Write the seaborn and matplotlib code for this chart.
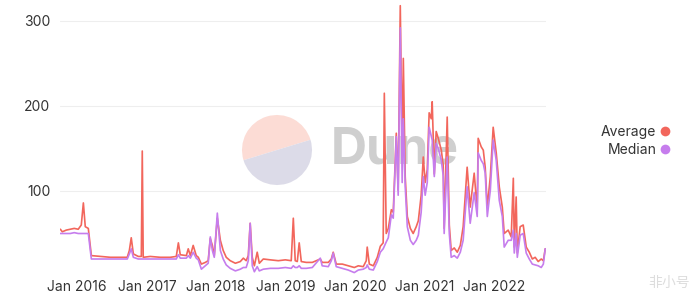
import matplotlib
matplotlib.use("Agg")
import matplotlib.pyplot as plt
from matplotlib.patches import Wedge
from matplotlib.lines import Line2D
import matplotlib.dates as mdates
import seaborn as sns
import pandas as pd

dates = [
    "2015-10-04", "2015-10-14", "2015-11-04", "2015-11-25", "2015-12-16", "2016-01-06",
    "2016-01-22", "2016-02-02", "2016-02-12", "2016-02-28", "2016-03-15", "2016-05-01",
    "2016-06-23", "2016-08-14", "2016-09-20", "2016-10-01", "2016-10-11", "2016-10-22",
    "2016-11-17", "2016-12-03", "2016-12-08", "2016-12-13", "2017-01-19", "2017-03-13",
    "2017-05-04", "2017-06-05", "2017-06-16", "2017-06-26", "2017-07-28", "2017-08-07",
    "2017-08-18", "2017-09-02", "2017-09-18", "2017-09-29", "2017-10-15", "2017-11-05",
    "2017-11-20", "2017-12-01", "2017-12-12", "2017-12-22", "2018-01-07", "2018-01-23",
    "2018-02-07", "2018-02-23", "2018-03-16", "2018-04-12", "2018-05-08", "2018-05-24",
    "2018-06-08", "2018-06-19", "2018-06-29", "2018-07-10", "2018-07-21", "2018-08-05",
    "2018-08-16", "2018-09-06", "2018-10-13", "2018-11-24", "2018-12-31", "2019-01-31",
    "2019-02-11", "2019-02-21", "2019-03-04", "2019-03-14", "2019-03-25", "2019-04-20",
    "2019-05-22", "2019-06-22", "2019-07-03", "2019-07-13", "2019-08-14", "2019-08-30",
    "2019-09-09", "2019-09-25", "2019-10-27", "2019-11-27", "2019-12-29", "2020-01-19",
    "2020-02-14", "2020-03-01", "2020-03-06", "2020-03-17", "2020-04-07", "2020-04-28",
    "2020-05-14", "2020-05-29", "2020-06-04", "2020-06-14", "2020-06-25", "2020-07-11",
    "2020-07-21", "2020-08-06", "2020-08-16", "2020-08-27", "2020-09-06", "2020-09-12",
    "2020-09-22", "2020-10-03", "2020-10-19", "2020-11-03", "2020-11-19", "2020-11-30",
    "2020-12-15", "2020-12-26", "2021-01-05", "2021-01-16", "2021-01-26", "2021-02-06",
    "2021-02-11", "2021-02-22", "2021-03-04", "2021-03-15", "2021-03-31", "2021-04-10",
    "2021-04-15", "2021-05-01", "2021-05-12", "2021-05-22", "2021-06-07", "2021-06-23",
    "2021-07-09", "2021-07-24", "2021-08-14", "2021-08-30", "2021-09-20", "2021-10-06",
    "2021-10-11", "2021-10-27", "2021-11-07", "2021-11-17", "2021-11-28", "2021-12-14",
    "2021-12-29", "2022-01-14", "2022-01-30", "2022-02-15", "2022-02-25", "2022-03-18",
    "2022-04-03", "2022-04-14", "2022-04-19", "2022-04-29", "2022-05-05", "2022-05-20",
    "2022-06-05", "2022-06-21", "2022-07-07", "2022-07-23", "2022-08-07", "2022-08-23",
    "2022-09-08", "2022-09-19", "2022-09-29",
]

average = [
    55, 52, 54, 55, 56, 55,
    60, 86, 58, 56, 24, 23,
    22, 22, 22, 30, 45, 26,
    23, 23, 147, 22, 23, 22,
    22, 23, 39, 25, 24, 32,
    24, 36, 24, 22, 14, 16,
    18, 44, 36, 24, 68, 42,
    30, 22, 18, 15, 17, 21,
    18, 24, 62, 22, 12, 28,
    15, 20, 19, 18, 19, 18,
    68, 18, 17, 39, 17, 16,
    16, 19, 20, 16, 16, 20,
    28, 14, 14, 12, 10, 12,
    11, 18, 34, 14, 12, 22,
    35, 39, 215, 50, 56, 78,
    75, 168, 101, 318, 145, 256,
    117, 70, 56, 50, 58, 65,
    95, 140, 110, 125, 192, 185,
    205, 120, 170, 162, 148, 130,
    56, 187, 60, 30, 33, 28,
    36, 58, 128, 81, 121, 78,
    162, 152, 148, 128, 81, 117,
    175, 145, 105, 81, 50, 54,
    46, 115, 34, 93, 27, 58,
    60, 34, 28, 20, 22, 17,
    20, 18, 32,
]

median = [
    50, 50, 50, 50, 51, 50,
    50, 50, 50, 50, 20, 20,
    20, 20, 20, 26, 32, 22,
    20, 20, 20, 20, 20, 20,
    20, 20, 25, 21, 21, 24,
    21, 28, 21, 19, 8, 12,
    15, 46, 30, 22, 74, 30,
    20, 13, 9, 6, 8, 10,
    10, 18, 62, 12, 5, 11,
    6, 8, 9, 9, 10, 9,
    12, 10, 10, 12, 9, 9,
    10, 18, 21, 12, 11, 18,
    27, 11, 9, 7, 4, 7,
    8, 10, 13, 8, 7, 17,
    28, 32, 35, 40, 45, 72,
    68, 164, 95, 292, 110, 185,
    105, 58, 42, 37, 42, 48,
    75, 117, 95, 110, 175, 165,
    160, 117, 156, 150, 136, 118,
    50, 140, 50, 22, 24, 21,
    28, 42, 105, 62, 98, 70,
    145, 136, 132, 121, 70, 101,
    160, 136, 89, 70, 34, 42,
    42, 54, 27, 50, 22, 48,
    50, 27, 20, 14, 13, 12,
    10, 14, 32,
]

series_names = ["Average", "Median"]
colors = {"Average": "#f2665c", "Median": "#c67ded"}
y_ticks = [100, 200, 300]
x_tick_years = [2016, 2017, 2018, 2019, 2020, 2021, 2022]

df = pd.DataFrame({
    "date": pd.to_datetime(dates * 2),
    "value": average + median,
    "series": ["Average"] * len(average) + ["Median"] * len(median),
})

sns.set_theme(style="white")
plt.rcParams["font.family"] = ["Inter", "DejaVu Sans"]

fig = plt.figure(figsize=(6.95, 2.96), dpi=100)
ax = fig.add_axes([60 / 695, 20 / 296, (546 - 60) / 695, (276 - 4) / 296])
ax.patch.set_alpha(0)

# watermark (behind data)
ax.add_patch(Wedge((2.77, 1.46), 0.35, 17, 197, transform=fig.dpi_scale_trans,
                   facecolor="#fcdcd5", edgecolor="none", zorder=0.2))
ax.add_patch(Wedge((2.77, 1.46), 0.35, 197, 377, transform=fig.dpi_scale_trans,
                   facecolor="#dcdbe8", edgecolor="none", zorder=0.2))
ax.text(331 / 695, 1 - 150 / 296, "Dune", transform=fig.transFigure, fontsize=36,
        fontweight="bold", color="#cfcfcf", va="center", ha="left", zorder=0.3)

sns.lineplot(data=df, x="date", y="value", hue="series", hue_order=series_names,
             palette=colors, linewidth=1.2, ax=ax, legend=False)

ax.set_xlim(pd.Timestamp("2015-10-02"), pd.Timestamp("2022-10-03"))
ax.set_ylim(0, 320)
ax.set_yticks(y_ticks)
ax.set_yticklabels([str(t) for t in y_ticks])
ax.set_xticks([pd.Timestamp(f"{y}-01-01") for y in x_tick_years])
ax.set_xticklabels([f"Jan {y}" for y in x_tick_years])
ax.set_xlabel("")
ax.set_ylabel("")
ax.grid(axis="y", color="#eeeeee", linewidth=0.8, zorder=0)
ax.grid(axis="x", visible=False)
for s in ax.spines.values():
    s.set_visible(False)
ax.tick_params(axis="both", length=0, labelsize=10, colors="#333333")
ax.tick_params(axis="y", pad=7)
ax.tick_params(axis="x", pad=3)

handles = [Line2D([], [], marker="o", linestyle="none", markersize=7,
                  markerfacecolor=colors[n], markeredgecolor="none") for n in series_names]
leg = fig.legend(handles, series_names, loc="center right",
                 bbox_to_anchor=(684 / 695, 1 - 141 / 296), frameon=False,
                 markerfirst=False, handletextpad=0.1, handlelength=1.0,
                 labelspacing=0.25, fontsize=10)
for t in leg.get_texts():
    t.set_color("#333333")

fig.text(690 / 695, 1 - 283 / 296, "非小号", ha="right", va="center", fontsize=10,
         color="#dddddd", family=["Noto Sans CJK SC", "DejaVu Sans"])

fig.savefig("out.png", dpi=100)
